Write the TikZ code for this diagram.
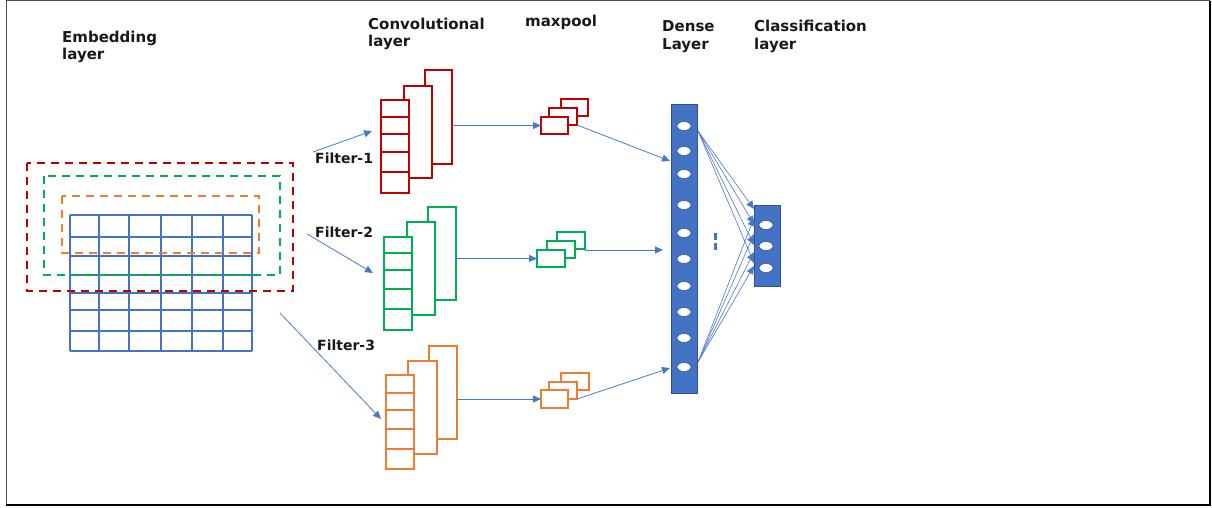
\documentclass[tikz,border=0pt]{standalone}
\usepackage{fontspec}
\setmainfont{DejaVu Sans}
\usetikzlibrary{arrows.meta,calc,shapes.geometric}
\definecolor{cred}{HTML}{C00000}
\definecolor{cgreen}{HTML}{00B050}
\definecolor{corange}{HTML}{ED7D31}
\definecolor{cblue}{HTML}{4472C4}
\definecolor{cgrid}{HTML}{4472C4}
\definecolor{cdark}{HTML}{2F528F}
\definecolor{carrow}{HTML}{4A78C8}
\begin{document}
\begin{tikzpicture}[x=1pt,y=-1pt,
  lbl/.style={font=\fontsize{15}{18}\selectfont\bfseries, inner sep=0pt, anchor=base west, text=black!90},
  flbl/.style={font=\fontsize{14}{16}\selectfont\bfseries, inner sep=0pt, anchor=base west, text=black!90},
  dashbox/.style={line width=2.2pt, dash pattern=on 8pt off 6pt},
  gridln/.style={line width=2.1pt, draw=cgrid},
  cbox/.style={rectangle, line width=2.2pt, fill=white, inner sep=0pt, outer sep=0pt, anchor=north west},
  pbox/.style={rectangle, line width=2.2pt, fill=white, inner sep=0pt, outer sep=0pt, anchor=north west, minimum width=27pt, minimum height=17pt},
  conn/.style={draw=carrow, line width=0.8pt, -{Triangle[width=7pt,length=8pt]}},
  bar/.style={rectangle, fill=cblue, draw=cdark, line width=0.6pt, inner sep=0pt, anchor=north west},
  neuron/.style={ellipse, fill=white, draw=cdark, line width=0.6pt, minimum width=14pt, minimum height=9pt, inner sep=0pt}
]
\useasboundingbox (0,0) rectangle (1212,508);
% outer frame
\draw[line width=1pt, black!70] (6,1) rectangle (1209.5,505);
\draw[line width=2pt, black] (1209.5,1) -- (1209.5,505) -- (6,505);

% labels
\node[lbl] (emb1) at (62,43) {Embedding};
\node[lbl] (emb2) at (62,60) {layer};
\node[lbl] (conv1) at (368,30) {Convolutional};
\node[lbl] (conv2) at (368,47) {layer};
\node[lbl] (mp) at (525,27) {maxpool};
\node[lbl] (dn1) at (662,32) {Dense};
\node[lbl] (dn2) at (662,50) {Layer};
\node[lbl] (cl1) at (754,32) {Classification};
\node[lbl] (cl2) at (754,50) {layer};
\node[flbl] (f1) at (315,163) {Filter-1};
\node[flbl] (f2) at (315,237) {Filter-2};
\node[flbl] (f3) at (317,350) {Filter-3};

% embedding grid
\foreach \x in {70,99,129,161,192,223,252} \draw[gridln] (\x,215) -- (\x,351);
\foreach \y in {215,237,256,275,293,310,331,351} \draw[gridln] (70,\y) -- (252,\y);
% dashed windows
\draw[dashbox, corange] (62,196) rectangle (259,253);
\draw[dashbox, cgreen] (44,176) rectangle (280,275);
\draw[dashbox, cred] (27,163) rectangle (293,291);

% convolution stacks: red
\node[cbox, draw=cred, minimum width=27pt, minimum height=94pt] (r3) at (425,70) {};
\node[cbox, draw=cred, minimum width=28pt, minimum height=92pt] (r2) at (404,86) {};
\node[cbox, draw=cred, minimum width=28pt, minimum height=93pt] (r1) at (381,100) {};
\foreach \y in {117,134,152,172} \draw[line width=2.2pt, cred] (381,\y) -- (409,\y);
% green
\node[cbox, draw=cgreen, minimum width=28pt, minimum height=93pt] (g3) at (428,207) {};
\node[cbox, draw=cgreen, minimum width=28pt, minimum height=93pt] (g2) at (407,222) {};
\node[cbox, draw=cgreen, minimum width=28pt, minimum height=93pt] (g1) at (384,237) {};
\foreach \y in {253,270,289,309} \draw[line width=2.2pt, cgreen] (384,\y) -- (412,\y);
% orange
\node[cbox, draw=corange, minimum width=28pt, minimum height=93pt] (o3) at (429,346) {};
\node[cbox, draw=corange, minimum width=29pt, minimum height=93pt] (o2) at (408,361) {};
\node[cbox, draw=corange, minimum width=28pt, minimum height=94pt] (o1) at (386,375) {};
\foreach \y in {393,410,429,449} \draw[line width=2.2pt, corange] (386,\y) -- (414,\y);

% maxpool boxes
\node[pbox, draw=cred] (rp3) at (561,99) {};
\node[pbox, draw=cred, minimum width=28pt] (rp2) at (549,108) {};
\node[pbox, draw=cred] (rp1) at (541,117) {};
\node[pbox, draw=cgreen, minimum width=28pt] (gp3) at (557,232) {};
\node[pbox, draw=cgreen, minimum width=28pt] (gp2) at (547,241) {};
\node[pbox, draw=cgreen, minimum width=28pt] (gp1) at (537,250) {};
\node[pbox, draw=corange, minimum width=28pt] (op3) at (561,373) {};
\node[pbox, draw=corange, minimum width=28pt] (op2) at (549,382) {};
\node[pbox, draw=corange, minimum width=27pt, minimum height=18pt] (op1) at (541,390) {};

% dense and classification layers
\node[bar, minimum width=26pt, minimum height=289pt] (dense) at (671,104) {};
\foreach \y [count=\i] in {126,151,174,205,233,259,286,312,338,367}
  \node[neuron] (d\i) at (684,\y) {};
\node[bar, minimum width=26pt, minimum height=81pt] (cls) at (754,205) {};
\foreach \y [count=\i] in {225,246,268}
  \node[neuron] (c\i) at (766,\y) {};
\node[rectangle, fill=cblue, minimum width=3.5pt, minimum height=7pt, inner sep=0pt] (dot1) at (715.5,236) {};
\node[rectangle, fill=cblue, minimum width=3.5pt, minimum height=7pt, inner sep=0pt] (dot2) at (715.5,246) {};

% filter arrows
\coordinate (f1s) at (313,152);
\coordinate (f1e) at (372,131);
\coordinate (f2s) at (307,234);
\coordinate (f2e) at (373,273);
\coordinate (f3s) at (280,313);
\coordinate (f3e) at (381,419);
\draw[conn] (f1s) -- (f1e);
\draw[conn] (f2s) -- (f2e);
\draw[conn] (f3s) -- (f3e);

% conv -> maxpool
\draw[conn] (r3.east |- rp1.west) -- (rp1.west);
\draw[conn] (g3.east |- gp1.west) -- (gp1.west);
\draw[conn] (o3.east |- op1.west) -- (op1.west);

% maxpool -> dense
\draw[conn] (rp2.south east) -- ($(dense.north west)+(-1,57)$);
\draw[conn, shorten >=8pt] ($(gp3.south east)+(0,1)$) -- ($(dense.west |- gp3.south east)+(0,1)$);
\draw[conn] (op2.south east) -- ($(dense.north west)+(-1,264)$);

% dense -> classification fan
\coordinate (dt) at (698,131);
\coordinate (db) at (698,362);
\foreach \o in {4,19,40,58}
  \draw[conn, line width=0.6pt] (dt) -- ($(cls.north west)+(0,\o)$);
\foreach \o in {13,29,47,61}
  \draw[conn, line width=0.6pt] (db) -- ($(cls.north west)+(0,\o)$);
\end{tikzpicture}
\end{document}
